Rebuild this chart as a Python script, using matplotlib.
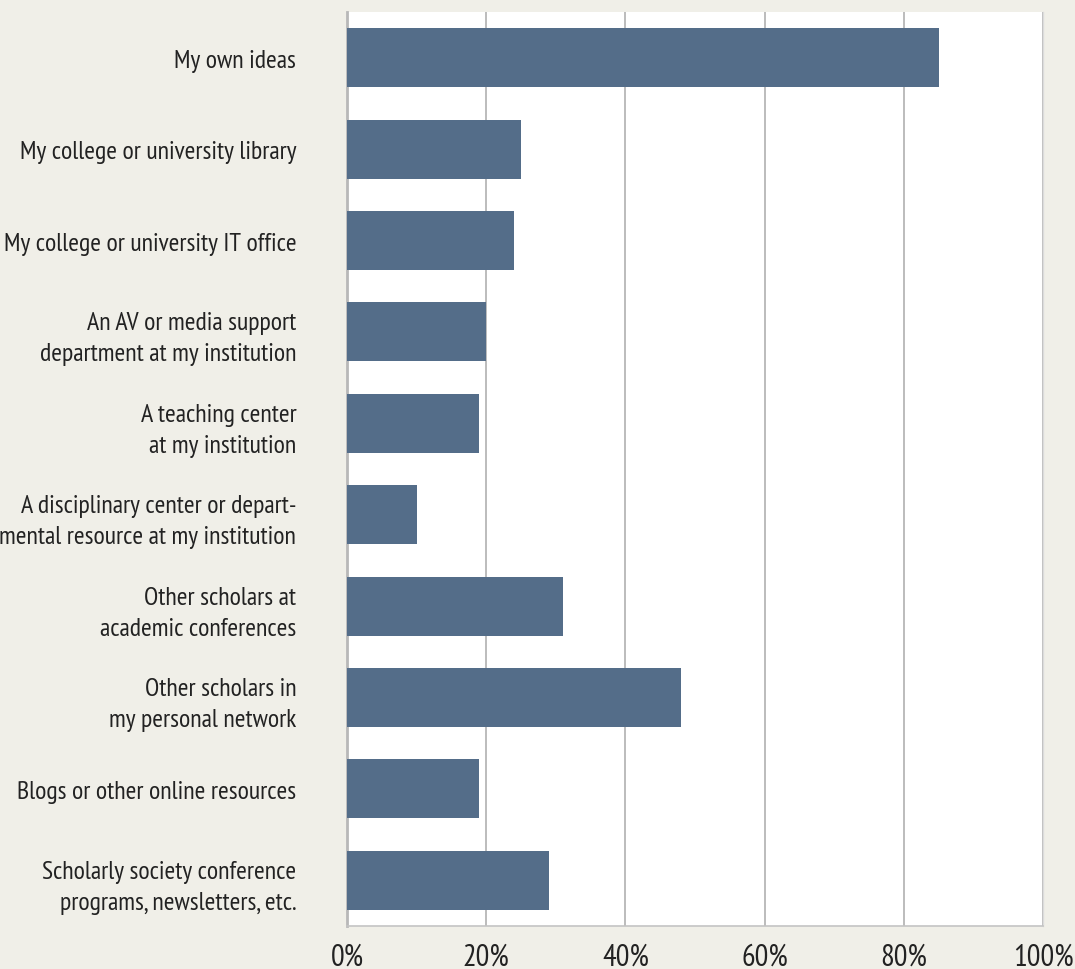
import matplotlib
matplotlib.use("Agg")
import matplotlib.pyplot as plt
from matplotlib.ticker import FuncFormatter

categories = [
    "My own ideas",
    "My college or university library",
    "My college or university IT office",
    "An AV or media support\ndepartment at my institution",
    "A teaching center\nat my institution",
    "A disciplinary center or depart-\nmental resource at my institution",
    "Other scholars at\nacademic conferences",
    "Other scholars in\nmy personal network",
    "Blogs or other online resources",
    "Scholarly society conference\nprograms, newsletters, etc.",
]
values = [85, 25, 24, 20, 19, 10, 31, 48, 19, 29]
xticks = [0, 20, 40, 60, 80, 100]

FONT = ['PT Sans Narrow', 'Roboto Condensed', 'DejaVu Sans Condensed', 'DejaVu Sans']
plt.rcParams['font.family'] = FONT

bg = "#f0efe8"
bar_color = "#546d89"
text_color = "#222222"

fig = plt.figure(figsize=(10.75, 9.7), dpi=100, facecolor=bg)
ax = fig.add_axes([347/1075, 43/970, (1043-347)/1075, (927-13)/970])
ax.set_facecolor("white")

ypos = list(range(len(categories)))
ax.barh(ypos, values, height=0.645, color=bar_color, zorder=3)
ax.set_ylim(len(categories) - 0.5, -0.5)
ax.set_xlim(0, 100)

ax.set_xticks(xticks)
ax.xaxis.set_major_formatter(FuncFormatter(lambda v, p: f"{int(v)}%"))
ax.set_yticks(ypos)

# fit label font size so the widest one-line label spans ~293 px like the reference
renderer = fig.canvas.get_renderer()
probe = fig.text(0, 0, categories[2], fontsize=17)
w = probe.get_window_extent(renderer).width
probe.remove()
ysize = 17 * 293.0 / w

probe = fig.text(0, 0, "100%", fontsize=19)
w2 = probe.get_window_extent(renderer).width
probe.remove()
xsize = min(19 * 66.0 / w2, 22)

ax.set_yticklabels(categories, fontsize=ysize, color=text_color, linespacing=1.45)
ax.tick_params(axis='y', length=0, pad=36.5)
ax.tick_params(axis='x', length=0, pad=12, labelsize=xsize, labelcolor=text_color)

ax.grid(axis='x', color="#b0b0b0", linewidth=1.2, zorder=1)
ax.grid(axis='y', visible=False)

ax.spines["top"].set_visible(False)
ax.spines["left"].set_color("#b8b8b8")
ax.spines["left"].set_linewidth(2)
ax.spines["bottom"].set_color("#c4c4c4")
ax.spines["bottom"].set_linewidth(1.2)
ax.spines["right"].set_color("#dcdcdc")
ax.spines["right"].set_linewidth(1)

fig.savefig("out.png", dpi=100, facecolor=bg)
